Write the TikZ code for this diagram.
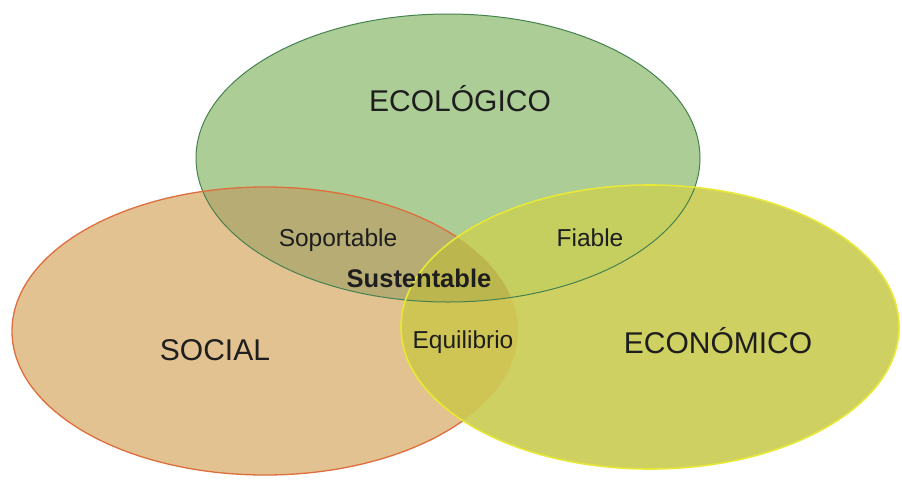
\documentclass[tikz,border=0pt]{standalone}
\usepackage{fontspec}
\setmainfont{Liberation Sans}
\definecolor{gfill}{RGB}{172,205,150}
\definecolor{ofill}{RGB}{226,194,144}
\definecolor{yfill}{RGB}{207,208,98}
\definecolor{gofill}{RGB}{182,172,116}
\definecolor{gyfill}{RGB}{196,207,96}
\definecolor{oyfill}{RGB}{207,197,84}
\definecolor{goyfill}{RGB}{187,182,78}
\definecolor{gline}{RGB}{70,130,80}
\definecolor{oline}{RGB}{222,110,60}
\definecolor{yline}{RGB}{232,232,55}
\definecolor{txt}{RGB}{30,30,30}
\begin{document}
\begin{tikzpicture}[x=1pt,y=-1pt,
  biglabel/.style={font=\fontsize{30}{36}\selectfont, text=txt, inner sep=0pt, anchor=base},
  smalllabel/.style={font=\fontsize{24.5}{29}\selectfont, text=txt, inner sep=0pt, anchor=base},
  boldlabel/.style={font=\fontsize{25.5}{30}\selectfont\bfseries, text=txt, inner sep=0pt, anchor=base}]
\useasboundingbox (0,0) rectangle (902,480);
\fill[white] (0,0) rectangle (902,480);
% base fills
\fill[gfill] (448,158) ellipse [x radius=252pt, y radius=144pt];
\fill[ofill] (265,331) ellipse [x radius=253pt, y radius=144pt];
\fill[yfill] (650,327) ellipse [x radius=249pt, y radius=142pt];
% pairwise intersections
\begin{scope}
  \clip (448,158) ellipse [x radius=252pt, y radius=144pt];
  \fill[gofill] (265,331) ellipse [x radius=253pt, y radius=144pt];
\end{scope}
\begin{scope}
  \clip (448,158) ellipse [x radius=252pt, y radius=144pt];
  \fill[gyfill] (650,327) ellipse [x radius=249pt, y radius=142pt];
\end{scope}
\begin{scope}
  \clip (265,331) ellipse [x radius=253pt, y radius=144pt];
  \fill[oyfill] (650,327) ellipse [x radius=249pt, y radius=142pt];
\end{scope}
\begin{scope}
  \clip (448,158) ellipse [x radius=252pt, y radius=144pt];
  \clip (265,331) ellipse [x radius=253pt, y radius=144pt];
  \fill[goyfill] (650,327) ellipse [x radius=249pt, y radius=142pt];
\end{scope}
% outlines
\draw[gline, line width=1pt] (448,158) ellipse [x radius=252pt, y radius=144pt];
\begin{scope}[even odd rule]
  \clip (-10,-10) rectangle (912,490) (650,327) ellipse [x radius=249pt, y radius=142pt];
  \draw[oline, line width=1.3pt] (265,331) ellipse [x radius=253pt, y radius=144pt];
\end{scope}
\draw[yline, line width=1.6pt] (650,327) ellipse [x radius=249pt, y radius=142pt];
% labels
\node[biglabel] (eco) at (460,111) {ECOLÓGICO};
\node[biglabel] (soc) at (215,360) {SOCIAL};
\node[biglabel] (econ) at (718,353) {ECONÓMICO};
\node[smalllabel] (sop) at (338,246) {Soportable};
\node[smalllabel] (fia) at (590,246) {Fiable};
\node[boldlabel] (sus) at (419,287) {Sustentable};
\node[smalllabel] (equ) at (463,348) {Equilibrio};
\end{tikzpicture}
\end{document}
